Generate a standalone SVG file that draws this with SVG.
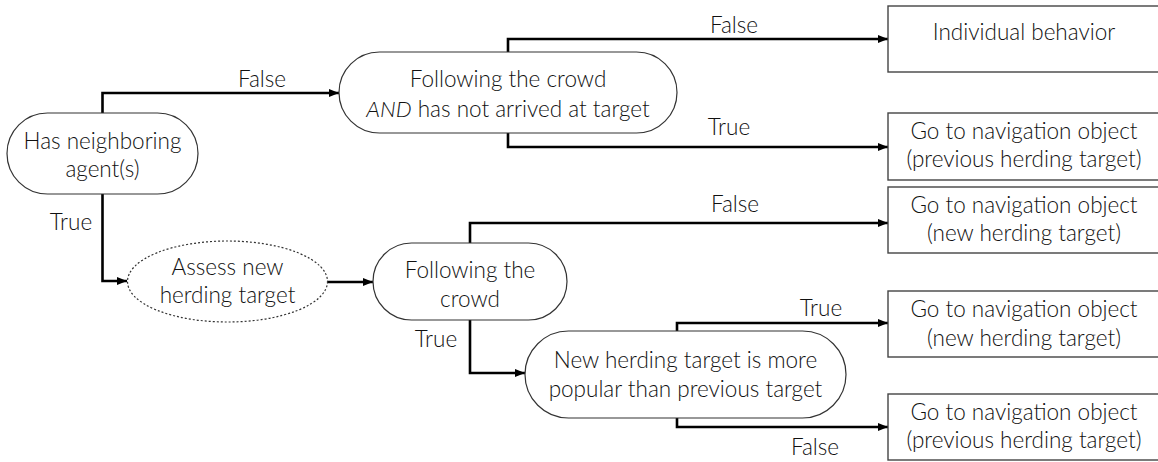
<svg xmlns="http://www.w3.org/2000/svg" width="1158" height="462" viewBox="0 0 1158 462">
  <defs>
    <marker id="arrow" viewBox="0 0 10 8" refX="10" refY="4" markerWidth="10" markerHeight="8" markerUnits="userSpaceOnUse" orient="auto">
      <path d="M0,0 L10,4 L0,8 Z" fill="#000"/>
    </marker>
    <style>
      .node { fill: #fff; stroke: #333; stroke-width: 1.2; }
      .box { fill: #fff; stroke: #444; stroke-width: 1.4; }
      .dash { fill: #fff; stroke: #333; stroke-width: 1.2; stroke-dasharray: 2 2; }
      .edge { fill: none; stroke: #000; stroke-width: 2.6; marker-end: url(#arrow); }
      text { font-family: Lato, "Open Sans", "Liberation Sans", sans-serif; font-size: 22.5px; font-weight: 300; fill: #111; text-anchor: middle; }
    </style>
  </defs>
  <rect width="1158" height="462" fill="#fff"/>

  <!-- connectors -->
  <g id="connectors">
    <path class="edge" d="M102.5,113 V93 H339"/>
    <path class="edge" d="M102.5,194 V281 H127"/>
    <path class="edge" d="M508,52 V39 H888"/>
    <path class="edge" d="M508,133 V147 H888"/>
    <path class="edge" d="M327,282 H373"/>
    <path class="edge" d="M470,243 V223 H888"/>
    <path class="edge" d="M470,320 V373 H525"/>
    <path class="edge" d="M677,331 V323 H888"/>
    <path class="edge" d="M677,418 V427 H888"/>
  </g>

  <!-- edge labels -->
  <g id="labels">
    <text x="262" y="87">False</text>
    <text x="71" y="230">True</text>
    <text x="734" y="33">False</text>
    <text x="729" y="135">True</text>
    <text x="735" y="212">False</text>
    <text x="436" y="347">True</text>
    <text x="821" y="316">True</text>
    <text x="815" y="455">False</text>
  </g>

  <g id="has-neighbors">
    <rect class="node" x="7" y="113" width="191" height="81" rx="40.5"/>
    <text x="102.5" y="149">Has neighboring</text>
    <text x="102.5" y="177">agent(s)</text>
  </g>

  <g id="following-not-arrived">
    <rect class="node" x="339" y="52" width="338" height="81" rx="40.5"/>
    <text x="508" y="87">Following the crowd</text>
    <text x="508" y="117"><tspan font-style="italic">AND</tspan> has not arrived at target</text>
  </g>

  <g id="assess-target">
    <ellipse class="dash" cx="227.5" cy="281.5" rx="100" ry="40.5"/>
    <text x="227.5" y="275">Assess new</text>
    <text x="227.5" y="303">herding target</text>
  </g>

  <g id="following-crowd">
    <rect class="node" x="373" y="243" width="194" height="77" rx="38.5"/>
    <text x="470" y="278">Following the</text>
    <text x="470" y="307">crowd</text>
  </g>

  <g id="more-popular">
    <rect class="node" x="525" y="331" width="321" height="87" rx="43.5"/>
    <text x="685.5" y="368">New herding target is more</text>
    <text x="685.5" y="397">popular than previous target</text>
  </g>

  <g id="individual">
    <rect class="box" x="888" y="6" width="280" height="66"/>
    <text x="1024" y="40">Individual behavior</text>
  </g>

  <g id="goto-previous-1">
    <rect class="box" x="888" y="113" width="280" height="67"/>
    <text x="1024" y="139">Go to navigation object</text>
    <text x="1024" y="167">(previous herding target)</text>
  </g>

  <g id="goto-new-1">
    <rect class="box" x="888" y="187" width="280" height="66"/>
    <text x="1024" y="213">Go to navigation object</text>
    <text x="1024" y="241">(new herding target)</text>
  </g>

  <g id="goto-new-2">
    <rect class="box" x="888" y="291" width="280" height="66"/>
    <text x="1024" y="317">Go to navigation object</text>
    <text x="1024" y="346">(new herding target)</text>
  </g>

  <g id="goto-previous-2">
    <rect class="box" x="888" y="394" width="280" height="66"/>
    <text x="1024" y="420">Go to navigation object</text>
    <text x="1024" y="448">(previous herding target)</text>
  </g>
</svg>
